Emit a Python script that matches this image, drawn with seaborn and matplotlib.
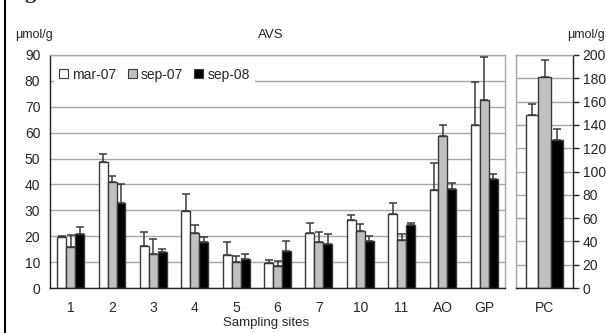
import pandas as pd
import numpy as np
import matplotlib
matplotlib.use("Agg")
import matplotlib.pyplot as plt
import matplotlib.patches as mpatches
import seaborn as sns

# values (umol/g), errors are upper bars only
sites = ['1', '2', '3', '4', '5', '6', '7', '10', '11', 'AO', 'GP']
seasons = ['mar-07', 'sep-07', 'sep-08']
mar07 = [19.7, 48.7, 16.2, 29.7, 12.7, 9.7, 21.2, 26.1, 28.7, 37.7, 63.1]
mar07_err = [0.4, 2.9, 5.5, 6.6, 5.1, 1.0, 4.0, 2.2, 4.0, 10.5, 16.5]
sep07 = [15.7, 40.8, 13.3, 21.1, 10.2, 8.6, 17.8, 22.1, 18.5, 58.7, 72.5]
sep07_err = [4.9, 2.5, 5.5, 3.1, 2.0, 1.7, 3.9, 2.7, 2.2, 4.4, 16.6]
sep08 = [20.7, 32.8, 13.8, 17.8, 11.3, 14.3, 16.9, 18.3, 24.3, 38.2, 42.2]
sep08_err = [3.0, 7.5, 1.4, 1.8, 1.9, 3.9, 4.0, 1.7, 0.9, 2.5, 2.0]

pc_site = ['PC']
pc_mar07 = [148.8]
pc_mar07_err = [8.8]
pc_sep07 = [181.0]
pc_sep07_err = [14.4]
pc_sep08 = [127.0]
pc_sep08_err = [9.8]

colors = ['#ffffff', '#c0c0c0', '#000000']
edge = '#3a3a3a'
gridc = '#a6a6a6'

sns.set_style("white")
plt.rcParams['font.family'] = ['Liberation Sans', 'DejaVu Sans']


def make_df(cats, vals):
    rows = []
    for s, v in zip(seasons, vals):
        for c, x in zip(cats, v):
            rows.append({'site': c, 'season': s, 'AVS': x})
    return pd.DataFrame(rows)


df = make_df(sites, [mar07, sep07, sep08])
dpc = make_df(pc_site, [pc_mar07, pc_sep07, pc_sep08])

fig = plt.figure(figsize=(6.06, 3.33), dpi=100)
ax = fig.add_axes([50 / 606, 1 - 288 / 333, 455 / 606, 233 / 333])
ax2 = fig.add_axes([516 / 606, 1 - 288 / 333, 57 / 606, 233 / 333])


def draw(a, d, errs, cats):
    sns.barplot(data=d, x='site', y='AVS', hue='season', hue_order=seasons,
                order=cats, palette=colors, width=0.65, errorbar=None,
                edgecolor=edge, linewidth=1.0, ax=a, legend=False, zorder=2)
    for cont, e in zip(a.containers, errs):
        xs = [p.get_x() + p.get_width() / 2 for p in cont.patches]
        hs = [p.get_height() for p in cont.patches]
        a.errorbar(xs, hs, yerr=[np.zeros(len(e)), e], fmt='none',
                   ecolor=edge, elinewidth=1.1, capsize=3, capthick=1.1, zorder=3)
    a.set_axisbelow(True)
    a.yaxis.grid(True, color=gridc, linewidth=1.0)
    a.set_xlabel('')
    a.set_ylabel('')
    n = len(cats)
    a.set_xlim(-0.5, n - 0.5)
    a.set_xticks(np.arange(-0.5, n, 1.0), minor=True)
    a.tick_params(axis='x', which='major', length=0, pad=9, labelsize=10)
    a.tick_params(axis='x', which='minor', length=5, width=1, color='#222', direction='out')
    for s in ['top', 'right', 'left', 'bottom']:
        a.spines[s].set_visible(True)
        a.spines[s].set_color(gridc)
        a.spines[s].set_linewidth(1.0)
    a.spines['bottom'].set_color('#222')


draw(ax, df, [mar07_err, sep07_err, sep08_err], sites)
ax.set_ylim(0, 90)
ax.set_yticks(range(0, 91, 10))
ax.spines['left'].set_color('#222')
ax.tick_params(axis='y', length=4, width=1, color='#222', direction='out', labelsize=10, pad=3)

draw(ax2, dpc, [pc_mar07_err, pc_sep07_err, pc_sep08_err], pc_site)
ax2.set_ylim(0, 200)
ax2.set_yticks(range(0, 201, 20))
ax2.yaxis.tick_right()
ax2.spines['right'].set_color('#222')
ax2.tick_params(axis='y', length=4, width=1, color='#222', direction='out', labelsize=10, pad=3,
                left=False, right=True, labelleft=False, labelright=True)

handles = [mpatches.Patch(facecolor=c, edgecolor=edge, linewidth=0.8, label=s)
           for c, s in zip(colors, seasons)]
leg = ax.legend(handles=handles, ncol=3, loc='upper left', bbox_to_anchor=(0.0, 0.985),
                frameon=True, fontsize=10, handlelength=0.65, handleheight=0.65,
                handletextpad=0.3, columnspacing=0.8, borderpad=0.35, borderaxespad=0.3)
leg.get_frame().set_facecolor('white')
leg.get_frame().set_edgecolor('none')
leg.get_frame().set_alpha(1)

fig.text(15 / 606, 1 - 35 / 333, 'μmol/g', fontsize=9, va='center', ha='left')
fig.text(567 / 606, 1 - 35 / 333, 'μmol/g', fontsize=9, va='center', ha='left')
fig.text(271 / 606, 1 - 35 / 333, 'AVS', fontsize=9.5, va='center', ha='center')
fig.text(266 / 606, 1 - 323 / 333, 'Sampling sites', fontsize=9.5, va='center', ha='center')
# bottom of the caption letter that is cut off at the top of the reference
fig.text(30 / 606, 1.02, 'g', fontsize=16, fontweight='bold', va='center', ha='center',
         family=['Liberation Serif', 'DejaVu Serif'])

fig.patches.append(mpatches.Rectangle((5 / 606, -0.1), 1.2, 1.1 + (1 - 9 / 333),
                                      transform=fig.transFigure, fill=False,
                                      edgecolor='black', linewidth=1.5))

fig.savefig('out.png', dpi=100)
